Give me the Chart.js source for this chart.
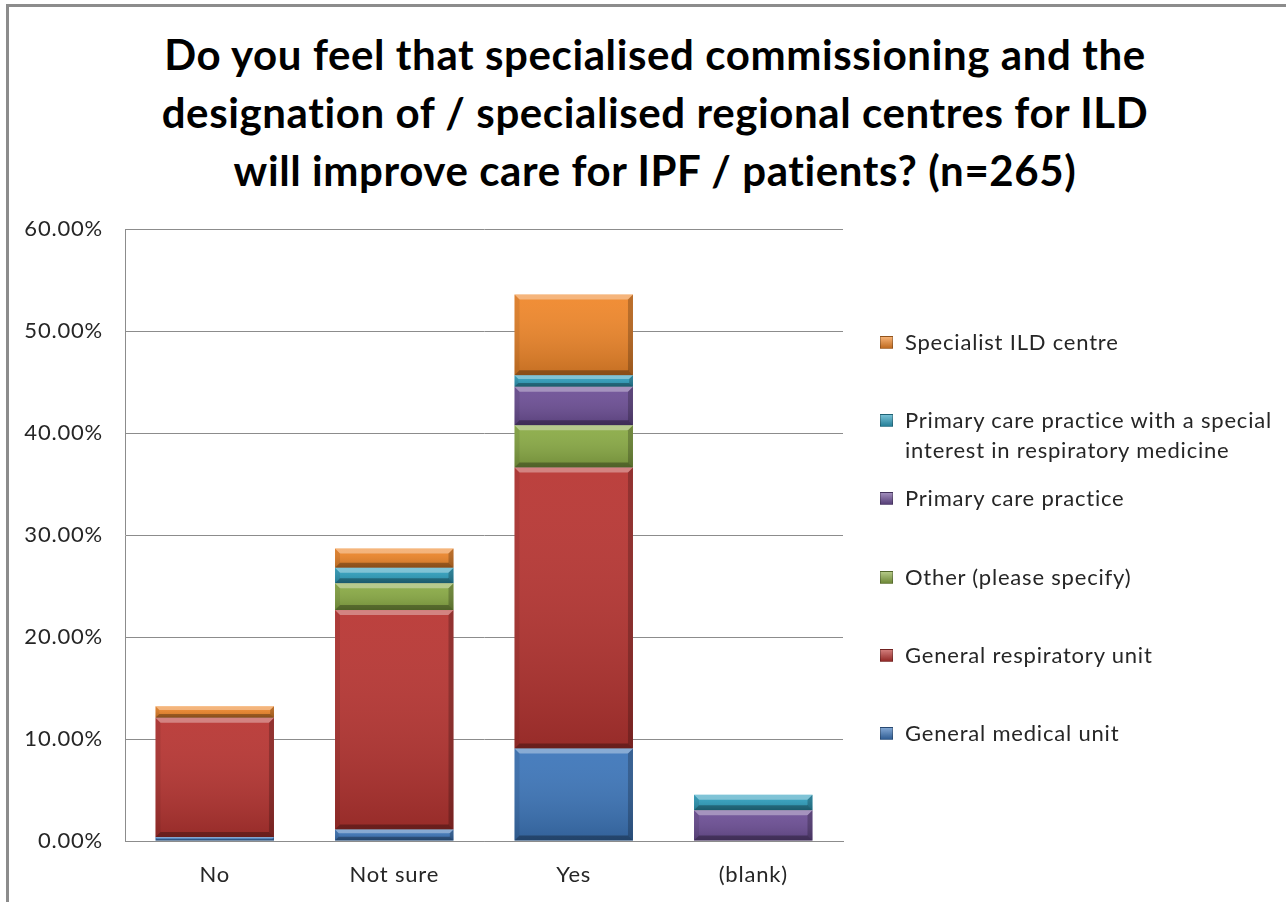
<!DOCTYPE html>
<html lang="en">
<head>
    <meta charset="UTF-8">
    <title>Specialised commissioning for ILD</title>
    <script src="https://cdn.jsdelivr.net/npm/chart.js"></script>
    <style>
        body {
            margin: 0;
            background: #fff;
            font-family: Lato, "Noto Sans", sans-serif;
        }
        .frame {
            position: absolute;
            left: 6px;
            top: 4px;
            width: 1300px;
            height: 920px;
            border-left: 3px solid #8c8c8c;
            border-top: 3px solid #8c8c8c;
        }
        .title {
            position: absolute;
            left: 0;
            top: 25px;
            width: 1310px;
            text-align: center;
            font-weight: bold;
            font-size: 42px;
            letter-spacing: 0.6px;
            line-height: 58px;
            color: #000;
        }
        .chart-box {
            position: absolute;
            left: 0;
            top: 0;
            width: 1286px;
            height: 902px;
        }
        .legend {
            position: absolute;
            left: 880px;
            top: 0;
            font-size: 22px;
            letter-spacing: 0.8px;
            color: #262626;
        }
        .legend div {
            position: absolute;
            white-space: nowrap;
            padding-left: 25px;
            line-height: 30px;
        }
        .legend span {
            position: absolute;
            left: 0;
            top: 9px;
            width: 13px;
            height: 13px;
            box-sizing: border-box;
        }
    </style>
</head>
<body>
    <div class="frame"></div>
    <div class="title">Do you feel that specialised commissioning and the<br>designation of / specialised regional centres for ILD<br>will improve care for IPF / patients? (n=265)</div>
    <div class="chart-box"><canvas id="ildChart" width="1286" height="902"></canvas></div>
    <div class="legend" id="legend"></div>

    <script>
        // answers
        const categories = ['No', 'Not sure', 'Yes', '(blank)'];

        // % of respondents (n=265), bottom of stack first
        const generalMedical     = [0.38, 1.13, 9.06, 0];
        const generalRespiratory = [11.70, 21.51, 27.55, 0];
        const otherSpecify       = [0, 2.64, 4.15, 0];
        const primaryCare        = [0, 0, 3.77, 3.02];
        const primaryCareSpecial = [0, 1.51, 1.13, 1.51];
        const specialistILD      = [1.13, 1.89, 7.92, 0];

        const seriesNames = [
            'General medical unit',
            'General respiratory unit',
            'Other (please specify)',
            'Primary care practice',
            'Primary care practice with a special interest in respiratory medicine',
            'Specialist ILD centre'
        ];
        const seriesData = [generalMedical, generalRespiratory, otherSpecify, primaryCare, primaryCareSpecial, specialistILD];
        const seriesColors = ['#3d76ba', '#b83532', '#8aab45', '#6d4f96', '#2fa0bf', '#f0872a'];

        // y axis range (%)
        const yMin = 0, yMax = 60, yStep = 10;

        // legend rows (top px of each entry), top entry is the last series
        const legendTops = [718, 640, 562, 483, 405, 327];

        // excel text is a bit wider than Lato, spread it out
        const spacingPlugin = {
            id: 'spacing',
            beforeLayout(chart) { chart.ctx.letterSpacing = '0.8px'; },
            beforeDraw(chart) { chart.ctx.letterSpacing = '0.8px'; }
        };

        // fake the office 2007 bevel look on each bar segment
        const bevelPlugin = {
            id: 'bevel',
            afterDatasetsDraw(chart) {
                const ctx = chart.ctx;
                chart.data.datasets.forEach((ds, i) => {
                    chart.getDatasetMeta(i).data.forEach(bar => {
                        const left = bar.x - bar.width / 2;
                        const right = bar.x + bar.width / 2;
                        const top = Math.min(bar.y, bar.base);
                        const bottom = Math.max(bar.y, bar.base);
                        const h = bottom - top;
                        if (h < 1) return;
                        const b = Math.min(5, h / 3);
                        ctx.save();
                        const g = ctx.createLinearGradient(0, top, 0, bottom);
                        g.addColorStop(0, 'rgba(255,255,255,0.06)');
                        g.addColorStop(1, 'rgba(0,0,0,0.18)');
                        ctx.fillStyle = g;
                        ctx.fillRect(left, top, right - left, h);
                        // top edge
                        ctx.fillStyle = 'rgba(255,255,255,0.35)';
                        ctx.beginPath();
                        ctx.moveTo(left, top); ctx.lineTo(right, top);
                        ctx.lineTo(right - b, top + b); ctx.lineTo(left + b, top + b);
                        ctx.closePath(); ctx.fill();
                        // bottom edge
                        ctx.fillStyle = 'rgba(0,0,0,0.3)';
                        ctx.beginPath();
                        ctx.moveTo(left, bottom); ctx.lineTo(right, bottom);
                        ctx.lineTo(right - b, bottom - b); ctx.lineTo(left + b, bottom - b);
                        ctx.closePath(); ctx.fill();
                        // sides
                        ctx.fillStyle = 'rgba(0,0,0,0.08)';
                        ctx.beginPath();
                        ctx.moveTo(left, top); ctx.lineTo(left + b, top + b);
                        ctx.lineTo(left + b, bottom - b); ctx.lineTo(left, bottom);
                        ctx.closePath(); ctx.fill();
                        ctx.fillStyle = 'rgba(0,0,0,0.22)';
                        ctx.beginPath();
                        ctx.moveTo(right, top); ctx.lineTo(right - b, top + b);
                        ctx.lineTo(right - b, bottom - b); ctx.lineTo(right, bottom);
                        ctx.closePath(); ctx.fill();
                        ctx.restore();
                    });
                });
            }
        };

        const ctx = document.getElementById('ildChart').getContext('2d');
        const chart = new Chart(ctx, {
            type: 'bar',
            data: {
                labels: categories,
                datasets: seriesNames.map((name, i) => ({
                    label: name,
                    data: seriesData[i],
                    backgroundColor: seriesColors[i],
                    borderWidth: 0,
                    barPercentage: 0.66,
                    categoryPercentage: 1.0
                }))
            },
            options: {
                responsive: false,
                animation: false,
                layout: {
                    padding: { top: 229, right: 443, left: 0, bottom: 0 }
                },
                plugins: {
                    legend: { display: false },
                    tooltip: { enabled: false }
                },
                scales: {
                    x: {
                        stacked: true,
                        grid: { display: false, drawTicks: false },
                        border: { display: true, color: '#8c8c8c', width: 1 },
                        ticks: {
                            color: '#262626',
                            padding: 21,
                            font: { family: 'Lato', size: 22 }
                        },
                        afterFit(scale) { scale.height = 61; }
                    },
                    y: {
                        stacked: true,
                        min: yMin,
                        max: yMax,
                        grid: { color: '#8c8c8c', drawTicks: false },
                        border: { display: true, color: '#8c8c8c', width: 1 },
                        ticks: {
                            stepSize: yStep,
                            color: '#262626',
                            padding: 22,
                            font: { family: 'Lato', size: 22 },
                            callback: v => v.toFixed(2) + '%'
                        },
                        afterFit(scale) { scale.width = 125; }
                    }
                }
            },
            plugins: [spacingPlugin, bevelPlugin]
        });

        // legend, same order as excel (reversed stack)
        const legend = document.getElementById('legend');
        seriesNames.forEach((name, i) => {
            const row = document.createElement('div');
            row.style.top = legendTops[i] + 'px';
            if (name.length > 40) {
                row.innerHTML = 'Primary care practice with a special<br>interest in respiratory medicine';
            } else {
                row.textContent = name;
            }
            const sw = document.createElement('span');
            sw.style.background = 'linear-gradient(180deg, rgba(255,255,255,0.35), rgba(0,0,0,0.2)), ' + seriesColors[i];
            sw.style.border = '1px solid rgba(0,0,0,0.25)';
            row.prepend(sw);
            legend.appendChild(row);
        });
    </script>
</body>
</html>
